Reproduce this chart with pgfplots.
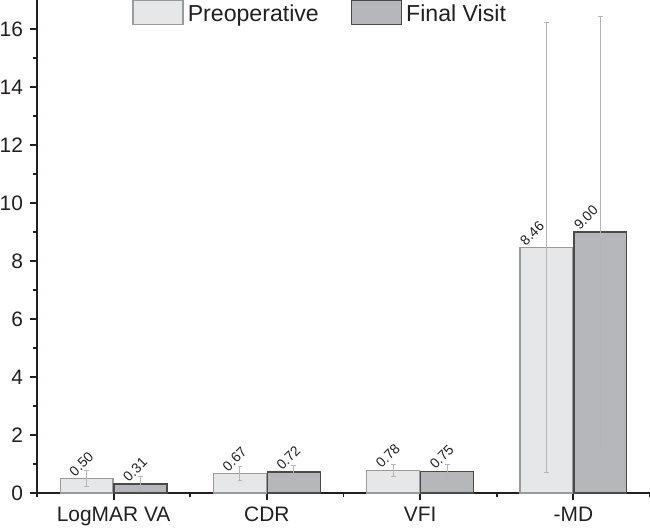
\documentclass[border=0pt]{standalone}
\usepackage{fontspec}
\setmainfont{Liberation Sans}
\usepackage{pgfplots}
\pgfplotsset{compat=1.18}
\usepackage{pgfplotstable}
\definecolor{preFill}{HTML}{E6E7E9}
\definecolor{preEdge}{HTML}{9A9A9A}
\definecolor{finFill}{HTML}{B6B7BA}
\definecolor{finEdge}{HTML}{4A4A4A}
\definecolor{errC}{HTML}{B4B4B4}
\definecolor{txt}{HTML}{231F20}

% x = category index -/+ 0.176 (bar centres)
\pgfplotstableread{
x y err
-0.176 0.50 0.27
0.824 0.67 0.25
1.824 0.78 0.20
}\preA
\pgfplotstableread{
x y err
2.824 8.46 7.77
}\preB
\pgfplotstableread{
x y err
0.176 0.31 0.26
1.176 0.72 0.24
2.176 0.75 0.23
}\finA
\pgfplotstableread{
x y err
3.176 9.00 7.44
}\finB

\pgfplotsset{
  errstyle/.style={error bars/.cd, y dir=both, y explicit,
    error bar style={line width=0.5bp, color=errC},
    error mark options={rotate=90, mark size=1.2bp, line width=0.5bp, color=errC}},
  legimg/.style={legend image code/.code={\draw[##1] (0bp,-4.9bp) rectangle (25bp,7.1bp);}},
  prestyle/.style={ybar, bar width=0.345, bar shift=0, fill=preFill, draw=preEdge, line width=0.7bp, legimg},
  finstyle/.style={ybar, bar width=0.345, bar shift=0, fill=finFill, draw=finEdge, line width=0.7bp, legimg},
  lblA/.style={nodes near coords style={font=\fontsize{7}{8}\selectfont, text=txt, xshift=-1bp, yshift=5.5bp, anchor=base, rotate=45, inner sep=0pt}},
  lblB/.style={nodes near coords style={font=\fontsize{7}{8}\selectfont, text=txt, xshift=-5.5bp, yshift=5.5bp, anchor=base, rotate=45, inner sep=0pt}},
}

\begin{document}
\begin{tikzpicture}
\path[use as bounding box] (-18.5bp,-19bp) rectangle (306.5bp,246.5bp);
\begin{axis}[
  scale only axis, width=306.5bp, height=246.5bp,
  xmin=-0.5, xmax=3.5, ymin=0, ymax=17,
  axis x line=bottom, axis y line=left,
  axis line style={-, line width=1bp, color=txt},
  xtick={0,1,2,3}, xticklabels={LogMAR VA, CDR, VFI, -MD},
  minor xtick={-0.5,0.5,1.5,2.5,3.5},
  ytick={0,2,...,16}, minor ytick={1,3,...,15},
  tick align=outside,
  major tick length=3.5bp, minor tick length=2.2bp,
  every tick/.style={line width=0.9bp, color=txt},
  ticklabel style={font=\fontsize{10.5}{12}\selectfont, text=txt},
  /pgf/number format/assume math mode=true,
  clip=false,
  nodes near coords={\pgfmathprintnumber[fixed,fixed zerofill,precision=2]{\pgfplotspointmeta}},
  legend style={at={(0.155,1)}, anchor=north west, yshift=0.3bp, draw=none, fill=none,
    inner sep=0pt, font=\fontsize{11.6}{13}\selectfont, text=txt,
    /tikz/every even column/.append style={column sep=14bp}},
  legend columns=2,
  legend cell align=left,
]
\addplot[prestyle, lblA, errstyle] table[x=x, y=y, y error=err] {\preA};
\addlegendentry{Preoperative}
\addplot[finstyle, lblA, errstyle] table[x=x, y=y, y error=err] {\finA};
\addlegendentry{Final Visit}
\addplot[forget plot, prestyle, lblB, errstyle] table[x=x, y=y, y error=err] {\preB};
\addplot[forget plot, finstyle, lblB, errstyle] table[x=x, y=y, y error=err] {\finB};
\end{axis}
\end{tikzpicture}
\end{document}
